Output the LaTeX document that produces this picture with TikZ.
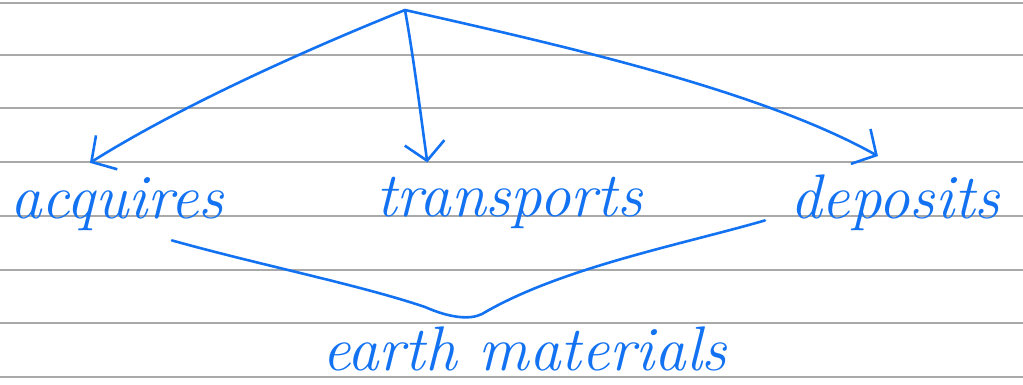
\documentclass[tikz,border=0pt]{standalone}
\usetikzlibrary{positioning, arrows.meta}
\definecolor{clrink}{HTML}{1372F2}
\definecolor{clrrule}{HTML}{A9A9A9}
\begin{document}
\begin{tikzpicture}[
    x=1pt, y=-1pt,
    >={Straight Barb[length=18pt, width=40pt]},
    every node/.style={font=\fontsize{63}{70}\selectfont\itshape, text=clrink, inner sep=0pt},
    rule/.style={draw=clrrule, line width=1.6pt},
    arrow/.style={->, draw=clrink, line width=2.6pt, line cap=round, line join=round},
    link/.style={draw=clrink, line width=2.6pt, line cap=round},
]
\useasboundingbox[fill=white] (0,0) rectangle (1023,385);
\foreach \y in {3,55,108,162,216,270,323,377}
  \draw[rule] (0,\y) -- (1023,\y);
\coordinate (apex) at (405,10);
\node[anchor=base west] (n_acq) at (10,218) {acquires};
\node[anchor=base west] (n_trans) at (376,216) {transports};
\node[anchor=base west] (n_dep) at (790,218) {deposits};
\node[anchor=base west] (n_earth) at (322,370) {earth materials};
\draw[arrow] (apex) .. controls (330,40) and (190,100) .. ([xshift=-27pt, yshift=14pt]n_acq.north);
\draw[arrow] (apex) .. controls (414,60) and (420,110) .. ([xshift=-82pt, yshift=14pt]n_trans.north);
\draw[arrow] (apex) .. controls (560,45) and (760,90) .. ([xshift=-17pt, yshift=18pt]n_dep.north);
\draw[link] ([xshift=55pt, yshift=-10pt]n_acq.south) .. controls (260,265) and (360,285) .. (425,307)
  .. controls (450,318) and (470,320) .. (482,314) .. controls (560,268) and (680,245) .. ([xshift=-25pt, yshift=10pt]n_dep.south west);
\end{tikzpicture}
\end{document}
